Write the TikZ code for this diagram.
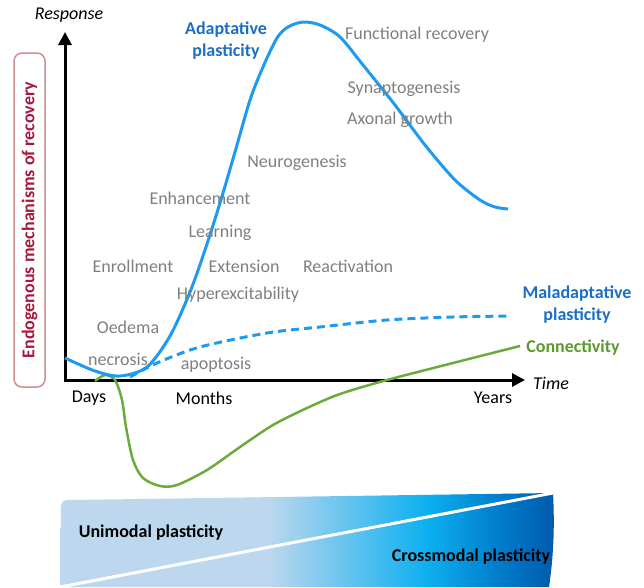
\documentclass[tikz,border=0pt]{standalone}
\usepackage{fontspec}
\setmainfont{Carlito}
\usetikzlibrary{arrows.meta}
\definecolor{curveblue}{HTML}{1E9BF0}
\definecolor{labelblue}{HTML}{1A6FC4}
\definecolor{curvegreen}{HTML}{6AAB3C}
\definecolor{labelgreen}{HTML}{5A9A2C}
\definecolor{boxred}{HTML}{A31A3F}
\definecolor{boxedge}{HTML}{CF8E90}
\definecolor{mechgray}{HTML}{7F7F7F}
\definecolor{bandlight}{HTML}{BDD7EE}
\definecolor{bandcyan}{HTML}{0DB0F0}
\definecolor{bandmid}{HTML}{0078C8}
\definecolor{banddark}{HTML}{005AAA}
\pgfdeclarehorizontalshading{bandshade}{100bp}{color(0bp)=(bandlight); color(25bp)=(bandlight);
  color(46bp)=(bandlight); color(62bp)=(bandcyan); color(70bp)=(bandmid); color(75bp)=(banddark); color(100bp)=(banddark)}
\begin{document}
\begin{tikzpicture}[x=1pt, y=-1pt, >={Triangle[width=13pt,length=13pt]},
    mech/.style={text=mechgray, font=\fontsize{18}{22}\selectfont},
    tick/.style={font=\fontsize{18}{22}\selectfont},
    curvelabel/.style={font=\fontsize{18}{22}\selectfont\bfseries, align=center},
    axislabel/.style={font=\fontsize{18}{22}\selectfont\itshape}]
    \useasboundingbox (0,0) rectangle (644,587);
    % bottom band
    \shade[shading=bandshade] (60,587) -- (61,508) .. controls (61,501) and (64,500) .. (70,500)
        -- (553,493) .. controls (555,530) and (553,560) .. (549,587) -- cycle;
    \draw[white, line width=3pt] (60,587) -- (553,493);
    \node[curvelabel] (uni) at (151,533) {Unimodal plasticity};
    \node[curvelabel] (cross) at (471,557) {Crossmodal plasticity};
    % axes
    \coordinate (O) at (65,380);
    \coordinate (ytip) at (65,32);
    \coordinate (xtip) at (525,380);
    \draw[<->, line width=3pt] (ytip) -- (O) -- (xtip);
    \node[axislabel] (resp) at (69,15) {Response};
    \node[axislabel] (time) at (551,383) {Time};
    \node[tick] (days) at (89,398) {Days};
    \node[tick] (months) at (204,398) {Months};
    \node[tick] (years) at (493,398) {Years};
    \node[draw=boxedge, line width=1.5pt, rounded corners=8pt, rotate=90, minimum width=334pt, minimum height=31pt,
        text=boxred, font=\fontsize{18}{22}\selectfont\bfseries] (endo) at (29.5,220) {Endogenous mechanisms of recovery};
    % curves
    \draw[curvegreen, line width=2.5pt] plot[smooth] coordinates {(95,381) (105,375) (115,380) (122,400) (126,427)
        (133,460) (143,478) (160,486) (177,485) (207,470) (240,447) (273,425) (307,408) (340,394)
        (387,380) (453,363) (520,346)};
    \draw[curveblue, line width=3pt, dash pattern=on 8pt off 5pt] plot[smooth] coordinates {(130,377) (157,363) (200,347)
        (267,333) (320,327) (387,320) (453,317) (510,316)};
    \draw[curveblue, line width=3pt] plot[smooth] coordinates {(65,358) (95,371) (120,376) (147,367) (170,336)
        (190,292) (205,250) (220,203) (235,152) (250,100) (263,67) (277,38) (288,27) (303,22) (320,25) (340,37)
        (363,65) (395,105) (425,145) (455,180) (480,200) (495,207) (508,209)};
    % labels
    \node[curvelabel, text=labelblue] (adapt) at (226,41) {Adaptative\\plasticity};
    \node[curvelabel, text=labelblue] (malad) at (577,305) {Maladaptative\\plasticity};
    \node[curvelabel, text=labelgreen] (conn) at (573,348) {Connectivity};
    \node[mech] (func) at (417,35) {Functional recovery};
    \node[mech] (synap) at (404,89) {Synaptogenesis};
    \node[mech] (axon) at (400,120) {Axonal growth};
    \node[mech] (neuro) at (297,163) {Neurogenesis};
    \node[mech] (enh) at (200,198) {Enhancement};
    \node[mech] (learn) at (220,233) {Learning};
    \node[mech] (enrol) at (133,266) {Enrollment};
    \node[mech] (ext) at (244,266) {Extension};
    \node[mech] (react) at (348,266) {Reactivation};
    \node[mech] (hyper) at (238,295) {Hyperexcitability};
    \node[mech] (oed) at (128,327) {Oedema};
    \node[mech] (necro) at (118,359) {necrosis};
    \node[mech] (apop) at (216,365) {apoptosis};
\end{tikzpicture}
\end{document}
